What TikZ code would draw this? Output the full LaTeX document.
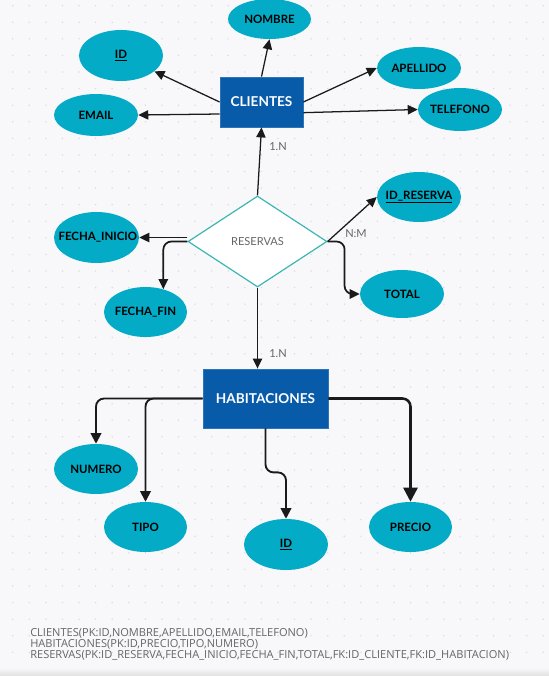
\documentclass[tikz,border=0pt]{standalone}
\usepackage{fontspec}
\setmainfont{Lato}
\newfontfamily\notefont{Open Sans}
\usetikzlibrary{shapes.geometric,arrows.meta}

\definecolor{paper}{HTML}{F8F8FB}
\definecolor{gridc}{HTML}{DCDCE2}
\definecolor{attrc}{HTML}{03ABC6}
\definecolor{entc}{HTML}{085BA8}
\definecolor{entedge}{HTML}{2F73B8}
\definecolor{relc}{HTML}{3BB7B3}
\definecolor{linec}{HTML}{1A1A1A}
\definecolor{labc}{HTML}{666666}

% attribute labels do not widen their ellipse
\newcommand\attrlabel[1]{\makebox[0pt]{#1}}

\tikzset{
  attr/.style={ellipse, fill=attrc, inner sep=0pt, text=black,
    font=\bfseries\fontsize{8.6}{10}\selectfont},
  entity/.style={rectangle, fill=entc, draw=entedge, line width=0.6pt,
    inner sep=0pt, text=white, font=\bfseries\fontsize{10.2}{12}\selectfont},
  rel/.style={diamond, aspect=1.53, fill=white, draw=relc, line width=0.9pt,
    inner sep=0pt, text=labc, font=\fontsize{8.3}{10}\selectfont},
  arr/.style={draw=linec, line width=0.95pt, -{Triangle[length=7.5pt,width=7pt]}},
  harr/.style={draw=linec, line width=1.4pt, rounded corners=6pt,
    -{Triangle[length=8pt,width=8pt]}},
  card/.style={text=labc, font=\fontsize{8.3}{10}\selectfont, inner sep=0pt},
  note/.style={text=labc, anchor=west, inner sep=0pt,
    font=\notefont\fontsize{8.3}{10}\selectfont}
}

\begin{document}
\begin{tikzpicture}[x=0.75pt,y=-0.75pt]
  % canvas with dot grid
  \fill[paper] (0,0) rectangle (549,676);
  \useasboundingbox (0,0) rectangle (549,676);
  \foreach \i in {0,...,32}{
    \foreach \j in {0,...,40}{
      \fill[gridc] ({12.7+16.58*\i},{5.7+16.58*\j}) circle (0.85);
    }
  }
  \shade[top color=paper, bottom color=black!12] (0,668) rectangle (549,676);

  % entities and relationship
  \node[entity, minimum width=62.25pt, minimum height=37.5pt] (clientes) at (261.5,102) {CLIENTES};
  \node[entity, minimum width=93.75pt, minimum height=44.25pt] (hab) at (265.5,398.5) {HABITACIONES};
  \node[rel, minimum width=104.25pt, minimum height=68.25pt] (res) at (257.5,241.5) {RESERVAS};

  % attributes of CLIENTES
  \node[attr, minimum width=62.25pt, minimum height=30pt] (nombre) at (269.5,19) {\attrlabel{NOMBRE}};
  \node[attr, minimum width=63pt, minimum height=38.25pt] (idc) at (121,55.5) {\attrlabel{\underline{ID}}};
  \node[attr, minimum width=63pt, minimum height=31.5pt] (email) at (96,115) {\attrlabel{EMAIL}};
  \node[attr, minimum width=63pt, minimum height=31.5pt] (apellido) at (419,68) {\attrlabel{APELLIDO}};
  \node[attr, minimum width=63pt, minimum height=32.25pt] (telefono) at (460,109.5) {\attrlabel{TELEFONO}};

  % attributes of RESERVAS
  \node[attr, minimum width=63.75pt, minimum height=38.25pt] (fi) at (96.5,237.5) {\attrlabel{\hspace*{2pt}FECHA\_INICIO}};
  \node[attr, minimum width=62.25pt, minimum height=37.5pt] (ff) at (145.5,312) {\attrlabel{FECHA\_FIN}};
  \node[attr, minimum width=63pt, minimum height=37.5pt] (idr) at (419,197) {\attrlabel{\underline{ID\_RESERVA}}};
  \node[attr, minimum width=63pt, minimum height=36pt] (total) at (402,294) {\attrlabel{TOTAL}};

  % attributes of HABITACIONES
  \node[attr, minimum width=63pt, minimum height=37.5pt] (numero) at (96,469) {\attrlabel{NUMERO}};
  \node[attr, minimum width=62.25pt, minimum height=37.5pt] (tipo) at (145.5,527) {\attrlabel{TIPO}};
  \node[attr, minimum width=63pt, minimum height=38.25pt] (idh) at (286,544.5) {\attrlabel{\underline{ID}}};
  \node[attr, minimum width=62.25pt, minimum height=37.5pt] (precio) at (410.5,527) {\attrlabel{PRECIO}};

  % CLIENTES connectors
  \draw[arr] (clientes.north) -- (nombre.south);
  \draw[arr] (clientes.west) -- (idc);
  \draw[arr] ([yshift=-9pt]clientes.west) -- (email.east);
  \draw[arr] (clientes.east) -- (apellido.west);
  \draw[arr] ([yshift=-8pt]clientes.east) -- (telefono.west);

  % RESERVAS connectors
  \draw[arr] (res.north) -- (clientes.south);
  \node[card] (c1) at (278,147) {1.N};
  \draw[arr] (fi.east -| res.west) -- (fi.east);
  \draw[arr, line width=1.3pt, rounded corners=6pt] (res.west) -| (ff.52);
  \draw[arr] (res.east) -- (idr.west);
  \node[card] (c2) at (356,234) {N:M};
  \draw[arr, line width=1.3pt, rounded corners=6pt] (res.east) -- ++(17,0) |- (total.west);
  \draw[arr, line width=1.3pt] (res.south) -- (res.south |- hab.north);
  \node[card] (c3) at (278,354) {1.N};

  % HABITACIONES connectors
  \draw[harr] (hab.west) -| (numero.north);
  \draw[harr] (hab.west) -| (tipo.north);
  \draw[harr] (hab.south) -- ++(0,44) -| (idh.north);
  \draw[harr, line width=1.9pt, -{Triangle[length=10.5pt,width=10.5pt]}] (hab.east) -| (precio.north);

  % relational schema
  \node[note] (s1) at (30,633.5) {CLIENTES(PK:ID,NOMBRE,APELLIDO,EMAIL,TELEFONO)};
  \node[note] (s2) at (30,644.5) {HABITACIONES(PK:ID,PRECIO,TIPO,NUMERO)};
  \node[note] (s3) at (30,655.5) {RESERVAS(PK:ID\_RESERVA,FECHA\_INICIO,FECHA\_FIN,TOTAL,FK:ID\_CLIENTE,FK:ID\_HABITACION)};
\end{tikzpicture}
\end{document}
